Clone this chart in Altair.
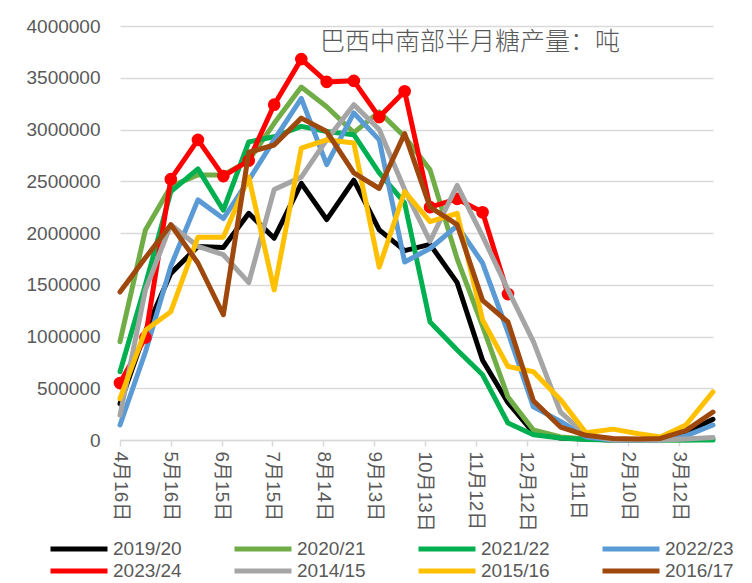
import altair as alt
import pandas as pd
from datetime import date

# half-month reporting dates (non-leap base year so the 30-day axis ticks match)
periods = ["2018-04-16", "2018-05-01", "2018-05-16", "2018-06-01", "2018-06-16", "2018-07-01",
           "2018-07-16", "2018-08-01", "2018-08-16", "2018-09-01", "2018-09-16", "2018-10-01",
           "2018-10-16", "2018-11-01", "2018-11-16", "2018-12-01", "2018-12-16", "2019-01-01",
           "2019-01-16", "2019-02-01", "2019-02-16", "2019-03-01", "2019-03-16", "2019-04-01"]
# axis tick dates (labelled 4月16日, 5月16日, ... 3月12日)
tick_dates = ["2018-04-16", "2018-05-16", "2018-06-15", "2018-07-15", "2018-08-14", "2018-09-13",
              "2018-10-13", "2018-11-12", "2018-12-12", "2019-01-11", "2019-02-10", "2019-03-12"]

seasons = ["2019/20", "2020/21", "2021/22", "2022/23", "2023/24", "2014/15", "2015/16", "2016/17"]
colors = ["#000000", "#70AD47", "#00B050", "#5B9BD5", "#FF0000", "#A5A5A5", "#FFC000", "#9E480E"]

s2019_20 = [350000, 1050000, 1610000, 1870000, 1860000, 2190000, 1950000, 2480000, 2130000, 2510000,
            2030000, 1830000, 1890000, 1520000, 770000, 360000, 70000, 20000, 10000, 0, 0, 20000, 70000, 200000]
s2020_21 = [950000, 2030000, 2450000, 2560000, 2560000, 2700000, 3060000, 3410000, 3220000, 2970000,
            3170000, 2930000, 2610000, 1750000, 1100000, 415000, 97000, 30000, 10000, 0, 0, 0, 0, 10000]
s2021_22 = [660000, 1500000, 2400000, 2620000, 2220000, 2880000, 2930000, 3030000, 2980000, 2950000,
            2580000, 2290000, 1140000, 870000, 630000, 164000, 50000, 20000, 5000, 0, 0, 0, 0, 0]
s2022_23 = [145000, 850000, 1680000, 2320000, 2140000, 2510000, 2900000, 3300000, 2660000, 3160000,
            2900000, 1720000, 1850000, 2070000, 1710000, 1040000, 320000, 180000, 30000, 0, 0, 0, 40000, 145000]
s2023_24 = [550000, 990000, 2520000, 2900000, 2550000, 2700000, 3240000, 3680000, 3460000, 3470000,
            3120000, 3370000, 2250000, 2330000, 2200000, 1410000, None, None, None, None, None, None, None, None]
s2014_15 = [240000, 1450000, 2080000, 1870000, 1790000, 1520000, 2420000, 2540000, 2900000, 3240000,
            3000000, 2420000, 1920000, 2460000, 1970000, 1450000, 950000, 270000, 50000, 0, 0, 0, 10000, 25000]
s2015_16 = [400000, 1060000, 1240000, 1960000, 1960000, 2540000, 1450000, 2820000, 2900000, 2870000,
            1670000, 2400000, 2110000, 2190000, 1160000, 710000, 660000, 390000, 70000, 105000, 60000, 30000, 145000, 465000]
s2016_17 = [1430000, 1760000, 2080000, 1710000, 1210000, 2780000, 2850000, 3110000, 2980000, 2580000,
            2430000, 2960000, 2250000, 2080000, 1350000, 1140000, 380000, 125000, 45000, 15000, 10000, 15000, 90000, 270000]

series = [s2019_20, s2020_21, s2021_22, s2022_23, s2023_24, s2014_15, s2015_16, s2016_17]

title_text = "巴西中南部半月糖产量：吨"

rows = []
for s, vals in zip(seasons, series):
    for d, v in zip(periods, vals):
        if v is not None:
            rows.append({"date": d, "season": s, "value": v})
df = pd.DataFrame(rows)


def dt(s):
    d = date.fromisoformat(s)
    return alt.DateTime(year=d.year, month=d.month, date=d.day, utc=True)


FONT = "Liberation Sans, Noto Sans CJK SC, sans-serif"
GREY = "#595959"

x = alt.X(
    "date:T",
    scale=alt.Scale(type="utc", domain=[dt(periods[0]), dt(periods[-1])]),
    axis=alt.Axis(
        title=None,
        values=[dt(t) for t in tick_dates],
        labelExpr="(utcmonth(datum.value) + 1) + '月' + utcdate(datum.value) + '日'",
        labelAngle=90,
        labelAlign="left",
        labelBaseline="middle",
        labelFontSize=19,
        labelColor=GREY,
        labelFont=FONT,
        labelPadding=5,
        ticks=True,
        tickSize=6,
        tickColor="#D9D9D9",
        tickWidth=1.5,
        domainColor="#D9D9D9",
        domainWidth=1.5,
        grid=False,
        labelOverlap=False,
    ),
)
y = alt.Y(
    "value:Q",
    scale=alt.Scale(domain=[0, 4000000], nice=False),
    axis=alt.Axis(
        title=None,
        values=list(range(0, 4000001, 500000)),
        format="d",
        labelFontSize=19,
        labelColor=GREY,
        labelFont=FONT,
        labelPadding=20,
        ticks=False,
        tickSize=0,
        domain=False,
        grid=True,
        gridColor="#D9D9D9",
        gridWidth=1.5,
    ),
)
color = alt.Color(
    "season:N",
    scale=alt.Scale(domain=seasons, range=colors),
    legend=alt.Legend(
        title=None,
        orient="none",
        legendX=-72,
        legendY=513,
        direction="horizontal",
        columns=4,
        columnPadding=50,
        rowPadding=2,
        clipHeight=20,
        symbolType="stroke",
        symbolSize=3249,
        symbolStrokeWidth=5,
        labelFontSize=19,
        labelColor=GREY,
        labelFont=FONT,
        labelOffset=3,
        labelLimit=200,
    ),
)

base = alt.Chart(df).encode(x=x, y=y, color=color)

lines_a = base.transform_filter(
    alt.FieldOneOfPredicate(field="season", oneOf=seasons[:5])
).mark_line(strokeWidth=5, strokeJoin="round", strokeCap="round")

points = base.transform_filter(
    alt.FieldEqualPredicate(field="season", equal="2023/24")
).mark_circle(size=160, opacity=1)

lines_b = base.transform_filter(
    alt.FieldOneOfPredicate(field="season", oneOf=seasons[5:])
).mark_line(strokeWidth=5, strokeJoin="round", strokeCap="round")

title = alt.Chart(pd.DataFrame({"t": [title_text]})).mark_text(
    font="Noto Sans CJK SC", fontSize=25, fontWeight=300, color=GREY, align="center", baseline="middle"
).encode(x=alt.value(350), y=alt.value(16), text="t:N")

chart = alt.layer(lines_a, points, lines_b, title).properties(
    width=593,
    height=414,
    padding={"left": 112, "top": 18, "right": 20, "bottom": 142},
    autosize=alt.AutoSizeParams(type="none"),
).configure_view(stroke=None)

chart.save("out.html", embed_options={"renderer": "svg", "actions": False})
